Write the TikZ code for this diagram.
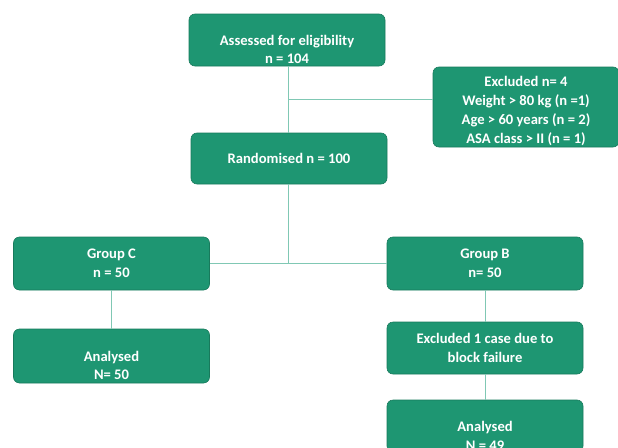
\documentclass[tikz,border=0pt]{standalone}
\usepackage{fontspec}
\setmainfont{Carlito}
\usepackage{tikz}
\usetikzlibrary{positioning,calc}
\definecolor{boxgreen}{RGB}{30,150,114}
\definecolor{boxedge}{RGB}{24,122,92}
\definecolor{linkgreen}{RGB}{128,200,180}

\tikzset{
  box/.style={rectangle, rounded corners=6pt, fill=boxgreen, draw=boxedge, line width=0.6pt,
    minimum width=196pt, minimum height=52pt},
  boxtext/.style={text=white, align=center, inner sep=0pt, font=\fontsize{14.6}{18.8}\selectfont\bfseries},
  link/.style={draw=linkgreen, line width=0.9pt}
}

\begin{document}
\begin{tikzpicture}[x=1pt, y=-1pt]
\useasboundingbox (0,0) rectangle (618,447);

% Boxes
\node[box] (assess) at (287,40) {};
\node[boxtext] (assesstxt) at ([yshift=-9.5pt]assess.center) {Assessed for eligibility\\n = 104};

\node[box, minimum width=186pt, minimum height=80pt] (excl) at (526,107) {};
\node[boxtext] (excltxt) at ([yshift=-4pt]excl.center) {Excluded n= 4\\Weight > 80 kg (n =1)\\Age > 60 years (n = 2)\\ASA class > II (n = 1)};

\node[box, minimum height=51pt] (rand) at (289,158.5) {};
\node[boxtext] (randtxt) at (rand.center) {Randomised n = 100};

\node[box, minimum height=53pt] (grpc) at (111.5,263.5) {};
\node[boxtext] (grpctxt) at (grpc.center) {Group C\\n = 50};

\node[box, minimum height=53pt] (grpb) at (485,263.5) {};
\node[boxtext] (grpbtxt) at (grpb.center) {Group B\\n= 50};

\node[box, minimum height=54pt] (anac) at (111.5,356) {};
\node[boxtext] (anactxt) at ([yshift=-9.5pt]anac.center) {Analysed\\N= 50};

\node[box] (exclb) at (485,348) {};
\node[boxtext] (exclbtxt) at (exclb.center) {Excluded 1 case due to\\block failure};

\node[box] (anab) at (485,426) {};
\node[boxtext] (anabtxt) at ([yshift=-9.5pt]anab.center) {Analysed\\N = 49};

% Connectors
\coordinate (split) at (288,99);
\draw[link] (assess.south -| split) -- (rand.north -| split);
\draw[link] (split) -- (excl.west |- split);
\draw[link] (rand.south -| split) -- (grpc.east -| split);
\draw[link] (grpc.east) -- (grpb.west);
\draw[link] (grpc.south) -- (anac.north);
\draw[link] (grpb.south) -- (exclb.north);
\draw[link] (exclb.south) -- (anab.north);

\end{tikzpicture}
\end{document}
